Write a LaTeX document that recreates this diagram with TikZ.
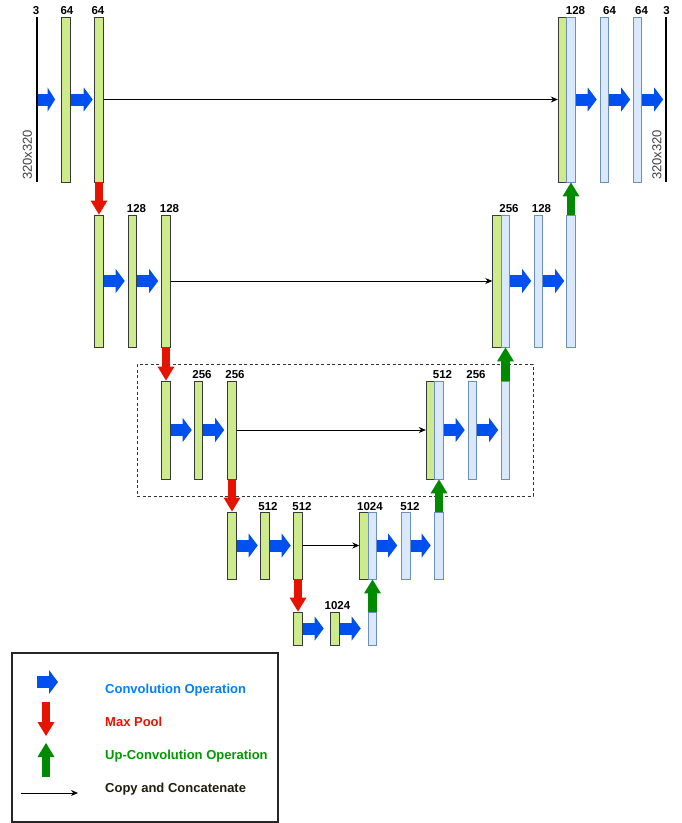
\documentclass[tikz,border=0pt]{standalone}
\usepackage{fontspec}
\setmainfont{Liberation Sans}
\usetikzlibrary{arrows.meta}
\definecolor{gfill}{HTML}{CDEB8B}
\definecolor{gborder}{HTML}{36393D}
\definecolor{bfill}{HTML}{DAE8FC}
\definecolor{bborder}{HTML}{6C8EBF}
\definecolor{convblue}{HTML}{0050EF}
\definecolor{poolred}{HTML}{E51400}
\definecolor{upgreen}{HTML}{008A00}
\definecolor{txtblue}{HTML}{007FFF}
\definecolor{txtred}{HTML}{EE1100}
\definecolor{txtgreen}{HTML}{009900}
\definecolor{txtdark}{HTML}{1F1F10}
\newcommand\labfont{\fontsize{11.5}{13}\selectfont\bfseries}
\newcommand\legfont{\fontsize{13}{15}\selectfont\bfseries}
\begin{document}
\begin{tikzpicture}[x=1pt,y=-1pt,
  gbar/.style={draw=gborder, fill=gfill, line width=0.9pt, inner sep=0pt, minimum width=8.5pt},
  bbar/.style={draw=bborder, fill=bfill, line width=0.9pt, inner sep=0pt, minimum width=8.5pt},
  iobar/.style={draw=none, fill=black, inner sep=0pt, minimum width=1.8pt},
  lab/.style={font=\labfont, anchor=base, inner sep=0pt},
  dimlab/.style={font=\fontsize{13}{15}\selectfont, text=black!75, inner sep=0pt, rotate=90},
  legtxt/.style={font=\legfont, anchor=base west, inner sep=0pt},
  conv/.style={draw=convblue, line width=12pt, -{Triangle[length=9pt,width=24pt,line width=0pt]}},
  convshort/.style={draw=convblue, line width=12pt, -{Triangle[length=7.5pt,width=24pt,line width=0pt]}},
  pool/.style={draw=poolred, line width=8pt, -{Triangle[length=14pt,width=17pt,line width=0pt]}},
  upc/.style={draw=upgreen, line width=8.5pt, -{Triangle[length=14pt,width=17pt,line width=0pt]}},
  copyc/.style={draw=black, line width=0.8pt, -{Stealth[length=7pt,width=6pt]}},
]
\fill[white] (0,0) rectangle (682,823);
\useasboundingbox (0,0) rectangle (682,823);

% ---------- level 1 ----------
\node[iobar, minimum height=165pt] (in1) at (37,99.5) {};
\node[gbar, minimum height=165pt] (a1) at (66,99.5) {};
\node[gbar, minimum height=165pt] (a2) at (99,99.5) {};
\node[gbar, minimum height=165pt] (a3) at (562.5,99.5) {};
\node[bbar, minimum height=165pt] (a4) at (571,99.5) {};
\node[bbar, minimum height=165pt] (a5) at (604.5,99.5) {};
\node[bbar, minimum height=165pt] (a6) at (637.5,99.5) {};
\node[iobar, minimum height=165pt] (out1) at (666,99.5) {};
\node[lab] (t1a) at (36,14) {3};
\node[lab] (t1b) at (67,14) {64};
\node[lab] (t1c) at (98,14) {64};
\node[lab] (t1d) at (575.5,14) {128};
\node[lab] (t1e) at (609.5,14) {64};
\node[lab] (t1f) at (641.5,14) {64};
\node[lab] (t1g) at (666.5,14) {3};
\node[dimlab] (t1s) at (27.5,155) {320x320};
\node[dimlab] (t1t) at (657,155) {320x320};

% ---------- level 2 ----------
\node[gbar, minimum height=132pt] (b1) at (99,281) {};
\node[gbar, minimum height=132pt] (b2) at (132.5,281) {};
\node[gbar, minimum height=132pt] (b3) at (166,281) {};
\node[gbar, minimum height=132pt] (b4) at (497,281) {};
\node[bbar, minimum height=132pt] (b5) at (505.5,281) {};
\node[bbar, minimum height=132pt] (b6) at (538.5,281) {};
\node[bbar, minimum height=132pt] (b7) at (571,281) {};
\node[lab] (t2a) at (136.5,212) {128};
\node[lab] (t2b) at (169.5,212) {128};
\node[lab] (t2c) at (509,212) {256};
\node[lab] (t2d) at (541.5,212) {128};

% ---------- level 3 ----------
\node[gbar, minimum height=98pt] (c1) at (166,430) {};
\node[gbar, minimum height=98pt] (c2) at (198.5,430) {};
\node[gbar, minimum height=98pt] (c3) at (232,430) {};
\node[gbar, minimum height=98pt] (c4) at (430.5,430) {};
\node[bbar, minimum height=98pt] (c5) at (439,430) {};
\node[bbar, minimum height=98pt] (c6) at (472.5,430) {};
\node[bbar, minimum height=98pt] (c7) at (505.5,430) {};
\node[lab] (t3a) at (202,378) {256};
\node[lab] (t3b) at (235,378) {256};
\node[lab] (t3c) at (442.5,378) {512};
\node[lab] (t3d) at (476,378) {256};

% ---------- level 4 ----------
\node[gbar, minimum height=67pt] (d1) at (232,545.5) {};
\node[gbar, minimum height=67pt] (d2) at (265,545.5) {};
\node[gbar, minimum height=67pt] (d3) at (298,545.5) {};
\node[gbar, minimum height=67pt] (d4) at (364,545.5) {};
\node[bbar, minimum height=67pt] (d5) at (372.5,545.5) {};
\node[bbar, minimum height=67pt] (d6) at (406,545.5) {};
\node[bbar, minimum height=67pt] (d7) at (439,545.5) {};
\node[lab] (t4a) at (268,510) {512};
\node[lab] (t4b) at (302,510) {512};
\node[lab] (t4c) at (370,510) {1024};
\node[lab] (t4d) at (410,510) {512};

% ---------- level 5 ----------
\node[gbar, minimum height=33pt] (e1) at (298,628.5) {};
\node[gbar, minimum height=33pt] (e2) at (335,628.5) {};
\node[bbar, minimum height=33pt] (e3) at (372.5,628.5) {};
\node[lab] (t5a) at (337.5,609) {1024};

% ---------- dashed group ----------
\node[draw=black!80, dash pattern=on 3pt off 2.5pt, line width=0.8pt, minimum width=396pt, minimum height=132pt, inner sep=0pt] (grp) at (335,430) {};

% ---------- convolution arrows ----------
\draw[convshort] (in1.east) -- ++(17,0);
\draw[conv] (a1.east) -- ++(22,0);
\draw[conv] (a4.east) -- ++(21,0);
\draw[conv] (a5.east) -- ++(21,0);
\draw[conv] (a6.east) -- ++(21,0);
\draw[conv] (b1.east) -- ++(21,0);
\draw[conv] (b2.east) -- ++(21,0);
\draw[conv] (b5.east) -- ++(21,0);
\draw[conv] (b6.east) -- ++(21,0);
\draw[conv] (c1.east) -- ++(21,0);
\draw[conv] (c2.east) -- ++(21,0);
\draw[conv] (c5.east) -- ++(21,0);
\draw[conv] (c6.east) -- ++(21,0);
\draw[conv] (d1.east) -- ++(21,0);
\draw[conv] (d2.east) -- ++(21,0);
\draw[conv] (d5.east) -- ++(20,0);
\draw[conv] (d6.east) -- ++(20,0);
\draw[conv] (e1.east) -- ++(21,0);
\draw[conv] (e2.east) -- ++(21,0);

% ---------- copy and concatenate ----------
\draw[copyc] (a2.east) -- (a3.west);
\draw[copyc] (b3.east) -- (b4.west);
\draw[copyc] (c3.east) -- (c4.west);
\draw[copyc] (d3.east) -- (d4.west);

% ---------- max pool ----------
\draw[pool] (a2.south) -- (b1.north);
\draw[pool] (b3.south) -- (c1.north);
\draw[pool] (c3.south) -- (d1.north);
\draw[pool] (d3.south) -- (e1.north);

% ---------- up-convolution ----------
\draw[upc] (e3.north) -- (d5.south);
\draw[upc] (d7.north) -- (c5.south);
\draw[upc] (c7.north) -- (b5.south);
\draw[upc] (b7.north) -- (a4.south);

% ---------- legend ----------
\node[draw=black!85, line width=1.3pt, minimum width=266pt, minimum height=169pt, inner sep=0pt] (leg) at (145,737.5) {};
\coordinate (lc) at (37,682);
\coordinate (lpa) at (46,702);
\coordinate (lpb) at (46,736);
\coordinate (lua) at (46,777);
\coordinate (lub) at (46,743);
\coordinate (lka) at (21,793);
\coordinate (lkb) at (78,793);
\draw[conv] (lc) -- ++(21,0);
\draw[pool] (lpa) -- (lpb);
\draw[upc] (lua) -- (lub);
\draw[copyc] (lka) -- (lkb);
\node[legtxt, text=txtblue] (lt1) at (105,693) {Convolution Operation};
\node[legtxt, text=txtred] (lt2) at (105,726) {Max Pool};
\node[legtxt, text=txtgreen] (lt3) at (105,759) {Up-Convolution Operation};
\node[legtxt, text=txtdark] (lt4) at (105,792) {Copy and Concatenate};
\end{tikzpicture}
\end{document}
